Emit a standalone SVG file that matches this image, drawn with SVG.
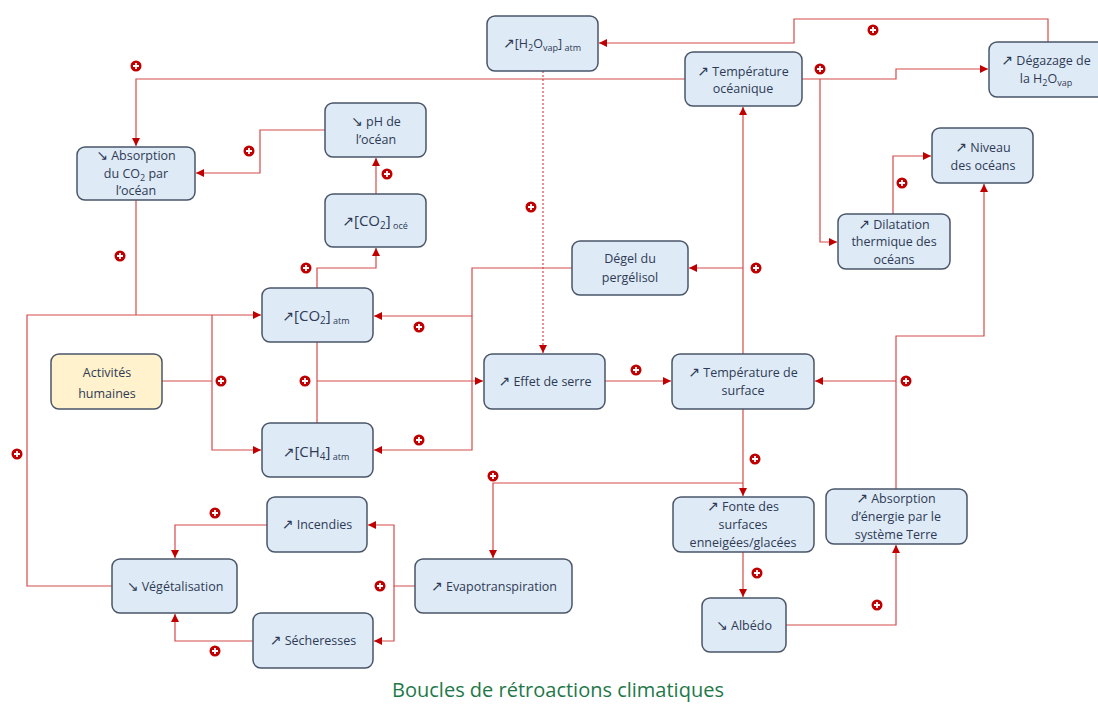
<svg xmlns="http://www.w3.org/2000/svg" width="1098" height="704" viewBox="0 0 1098 704">
<defs>
<marker id="arr" markerUnits="userSpaceOnUse" markerWidth="8" markerHeight="8" refX="8" refY="4" orient="auto">
<path d="M0,0 L8,4 L0,8 z" fill="#C00000"/>
</marker>
<g id="plus"><circle r="5.5" fill="#C00000"/><path d="M-3,0 H3 M0,-3 V3" stroke="#fff" stroke-width="1.8"/></g>
</defs>
<style>
.n{fill:#DEEAF6;stroke:#4A5568;stroke-width:1.5}
.h{fill:#FFF2CC;stroke:#4A5568;stroke-width:1.5}
text{font-family:"Open Sans","DejaVu Sans",sans-serif;font-size:12.5px;fill:#2E3A55;text-anchor:middle}
.ar{font-family:"DejaVu Sans",sans-serif;font-size:14px}
.big{font-size:15px}
.c{fill:none;stroke:#D44A4A;stroke-width:1.2}
.a{marker-end:url(#arr)}
.d{stroke-dasharray:2,2}
.cap{font-size:20px;fill:#1E7848}
</style>
<rect width="1098" height="704" fill="#fff"/>
<g id="connectors">
<path class="c a" d="M1048,42 V19 H794 V43 H599"/>
<path class="c a" d="M802,79 H896 V69 H988"/>
<path class="c a" d="M820,79 V242 H837"/>
<path class="c a" d="M685,79 H136 V146"/>
<path class="c a d" d="M543,71 V353"/>
<path class="c a" d="M743,354 V107"/>
<path class="c a" d="M743,268 H689"/>
<path class="c a" d="M572,268 H472 V316 H374"/>
<path class="c a" d="M472,316 V450 H374"/>
<path class="c a" d="M317,288 V268 H376 V248"/>
<path class="c a" d="M376,194 V158"/>
<path class="c a" d="M325,130 H260 V173 H196"/>
<path class="c" d="M136,200 V315"/>
<path class="c a" d="M112,586 H27 V315 H261"/>
<path class="c" d="M162,381 H212"/>
<path class="c a" d="M212,315 V450 H261"/>
<path class="c" d="M317,342 V423"/>
<path class="c a" d="M317,381 H483"/>
<path class="c a" d="M605,381 H671"/>
<path class="c a" d="M896,489 V336 H984 V184"/>
<path class="c a" d="M896,381 H815"/>
<path class="c a" d="M893,214 V156 H931"/>
<path class="c a" d="M743,409 V496"/>
<path class="c a" d="M743,483 H493 V558"/>
<path class="c a" d="M743,552 V597"/>
<path class="c a" d="M786,625 H896 V545"/>
<path class="c a" d="M415,586 H394 V525 H368"/>
<path class="c a" d="M394,586 V641 H374"/>
<path class="c a" d="M267,525 H175 V558"/>
<path class="c a" d="M253,641 H175 V614"/>
</g>
<g id="badges">
<use href="#plus" x="873" y="30"/><use href="#plus" x="820" y="69"/><use href="#plus" x="136" y="66"/>
<use href="#plus" x="531" y="207"/><use href="#plus" x="756" y="268"/><use href="#plus" x="419" y="327"/>
<use href="#plus" x="419" y="440"/><use href="#plus" x="306" y="268"/><use href="#plus" x="387" y="174"/>
<use href="#plus" x="249" y="151"/><use href="#plus" x="120" y="256"/><use href="#plus" x="17" y="454"/>
<use href="#plus" x="221" y="381"/><use href="#plus" x="305" y="381"/><use href="#plus" x="636" y="370"/>
<use href="#plus" x="906" y="381"/><use href="#plus" x="902" y="183"/><use href="#plus" x="755" y="459"/>
<use href="#plus" x="493" y="476"/><use href="#plus" x="757" y="573"/><use href="#plus" x="877" y="605"/>
<use href="#plus" x="380" y="586"/><use href="#plus" x="215" y="513"/><use href="#plus" x="215" y="651"/>
</g>
<g id="h2ovap"><rect class="n" x="487" y="16" width="111" height="55" rx="8"/>
<text x="542" y="48"><tspan class="ar">↗</tspan>[H<tspan font-size="9" dy="3">2</tspan><tspan dy="-3">O</tspan><tspan font-size="9" dy="3">vap</tspan><tspan dy="-3">]</tspan><tspan font-size="9" dy="3"> atm</tspan></text></g>
<g id="temp-oceanique"><rect class="n" x="685" y="52" width="117" height="54" rx="8"/>
<text x="743" y="76"><tspan class="ar">↗</tspan> Température</text><text x="743" y="93">océanique</text></g>
<g id="degazage"><rect class="n" x="989" y="42" width="118" height="55" rx="8"/>
<text x="1046" y="65"><tspan class="ar">↗</tspan> Dégazage de</text><text x="1046" y="83">la H<tspan font-size="9" dy="3">2</tspan><tspan dy="-3">O</tspan><tspan font-size="9" dy="3">vap</tspan></text></g>
<g id="ph"><rect class="n" x="325" y="103" width="101" height="54" rx="8"/>
<text x="376" y="126"><tspan class="ar">↘</tspan> pH de</text><text x="376" y="144">l’océan</text></g>
<g id="absorption-co2"><rect class="n" x="77" y="147" width="118" height="53" rx="8"/>
<text x="136" y="160"><tspan class="ar">↘</tspan> Absorption</text><text x="136" y="178">du CO<tspan font-size="9" dy="3">2</tspan><tspan dy="-3"> par</tspan></text><text x="136" y="195">l’océan</text></g>
<g id="co2-oce"><rect class="n" x="325" y="194" width="101" height="53" rx="8"/>
<text class="big" x="375" y="226"><tspan class="ar" font-size="15">↗</tspan>[CO<tspan font-size="10" dy="3">2</tspan><tspan dy="-3">]</tspan><tspan font-size="9" dy="3"> océ</tspan></text></g>
<g id="degel"><rect class="n" x="572" y="241" width="116" height="54" rx="8"/>
<text x="630" y="263">Dégel du</text><text x="630" y="282">pergélisol</text></g>
<g id="niveau"><rect class="n" x="932" y="128" width="101" height="55" rx="8"/>
<text x="983" y="152"><tspan class="ar">↗</tspan> Niveau</text><text x="983" y="170">des océans</text></g>
<g id="dilatation"><rect class="n" x="838" y="214" width="112" height="55" rx="8"/>
<text x="894" y="229"><tspan class="ar">↗</tspan> Dilatation</text><text x="894" y="246">thermique des</text><text x="894" y="264">océans</text></g>
<g id="co2-atm"><rect class="n" x="262" y="288" width="111" height="54" rx="8"/>
<text class="big" x="316" y="321"><tspan class="ar" font-size="15">↗</tspan>[CO<tspan font-size="10" dy="3">2</tspan><tspan dy="-3">]</tspan><tspan font-size="9" dy="3"> atm</tspan></text></g>
<g id="activites"><rect class="h" x="51" y="354" width="111" height="55" rx="8"/>
<text x="107" y="377" font-size="14.5">Activités</text><text x="107" y="398" font-size="14.5">humaines</text></g>
<g id="ch4-atm"><rect class="n" x="262" y="423" width="111" height="54" rx="8"/>
<text class="big" x="316" y="457"><tspan class="ar" font-size="15">↗</tspan>[CH<tspan font-size="10" dy="3">4</tspan><tspan dy="-3">]</tspan><tspan font-size="9" dy="3"> atm</tspan></text></g>
<g id="effet-serre"><rect class="n" x="484" y="354" width="121" height="55" rx="8"/>
<text x="545" y="386"><tspan class="ar">↗</tspan> Effet de serre</text></g>
<g id="temp-surface"><rect class="n" x="672" y="354" width="142" height="55" rx="8"/>
<text x="743" y="377"><tspan class="ar">↗</tspan> Température de</text><text x="743" y="395">surface</text></g>
<g id="fonte"><rect class="n" x="673" y="497" width="141" height="55" rx="8"/>
<text x="743" y="511"><tspan class="ar">↗</tspan> Fonte des</text><text x="743" y="529">surfaces</text><text x="743" y="547">enneigées/glacées</text></g>
<g id="absorption-energie"><rect class="n" x="826" y="489" width="141" height="55" rx="8"/>
<text x="896" y="503"><tspan class="ar">↗</tspan> Absorption</text><text x="896" y="521">d’énergie par le</text><text x="896" y="539">système Terre</text></g>
<g id="albedo"><rect class="n" x="702" y="598" width="84" height="54" rx="8"/>
<text x="744" y="630"><tspan class="ar">↘</tspan> Albédo</text></g>
<g id="incendies"><rect class="n" x="267" y="497" width="100" height="55" rx="8"/>
<text x="317" y="529"><tspan class="ar">↗</tspan> Incendies</text></g>
<g id="vegetalisation"><rect class="n" x="112" y="559" width="125" height="54" rx="8"/>
<text x="175" y="591"><tspan class="ar">↘</tspan> Végétalisation</text></g>
<g id="secheresses"><rect class="n" x="253" y="613" width="120" height="55" rx="8"/>
<text x="313" y="645"><tspan class="ar">↗</tspan> Sécheresses</text></g>
<g id="evapotranspiration"><rect class="n" x="415" y="559" width="157" height="54" rx="8"/>
<text x="494" y="591"><tspan class="ar">↗</tspan> Evapotranspiration</text></g>
<text class="cap" x="558" y="697">Boucles de rétroactions climatiques</text>
</svg>
